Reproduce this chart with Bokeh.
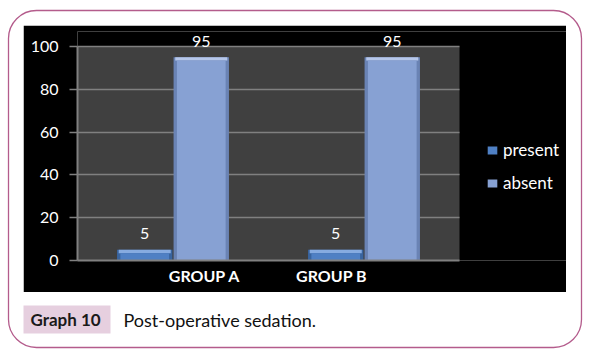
from bokeh.plotting import figure
from bokeh.models import (Range1d, FixedTicker, BoxAnnotation, Legend,
                          LegendItem, ColumnDataSource)
from bokeh.transform import dodge
from bokeh.core.properties import value
from bokeh.embed import file_html
from bokeh.resources import INLINE

# ---- data ----
groups = ["GROUP A", "GROUP B"]
series = ["present", "absent"]
present = [5, 5]
absent = [95, 95]
y_ticks = [0, 20, 40, 60, 80, 100]
caption_tag = "Graph 10"
caption_text = "Post-operative sedation."

FONT = "Lato"
# (edge, body, top bevel) colours per series
STYLE = {
    "present": ("#39649f", "#4f80c4", "#86abe0"),
    "absent": ("#6a83b4", "#87a1d3", "#b6c7ea"),
}

W, H = 596, 354

# ---- background page: rounded frame + caption ----
bg = figure(width=W, height=H, x_range=Range1d(0, W), y_range=Range1d(H, 0),
            x_axis_type=None, y_axis_type=None, output_backend="svg",
            toolbar_location=None, min_border=0, outline_line_color=None,
            background_fill_color="white", border_fill_color="white")
bg.grid.visible = False
bg.add_layout(BoxAnnotation(left=8, right=581, top=10, bottom=347,
                            fill_alpha=0, line_color="#b45c8c", line_alpha=1,
                            line_width=1.3, border_radius=28, level="image"))
bg.add_layout(BoxAnnotation(left=23, right=110, top=305, bottom=333,
                            fill_color="#e6cfdf", fill_alpha=1, line_alpha=0,
                            level="image"))
bg.text(x=[30], y=[319], text=[caption_tag], text_font=value(FONT),
        text_font_style="bold", text_font_size="17px",
        text_color="#1a1a1a", text_baseline="middle")
bg.text(x=[123], y=[319], text=[caption_text], text_font=value(FONT),
        text_font_size="18px", text_color="#111111",
        text_baseline="middle")

# ---- chart (black area) ----
BEV = 1.6   # top bevel thickness in data units
xc = [i + 0.5 for i in range(len(groups))]
src = ColumnDataSource(dict(
    x=xc, present=present, absent=absent,
    present_body=[v - BEV for v in present],
    absent_body=[v - BEV for v in absent],
    present_txt=[str(v) for v in present],
    absent_txt=[str(v) for v in absent],
))

CW, CH = 543, 267
BL, BT, BB = 54, 6, 32
x_end = len(groups) * (CW - BL) / 382.0     # gray plot area is 382px wide
p = figure(width=CW, height=CH,
           x_range=Range1d(0, x_end), y_range=Range1d(0, 107),
           output_backend="svg", toolbar_location=None,
           min_border_left=BL, min_border_right=0,
           min_border_top=BT, min_border_bottom=BB,
           background_fill_color="black", border_fill_color="black",
           outline_line_color=None, margin=(-(H - 25), 0, 0, 23))

p.add_layout(BoxAnnotation(left=0, right=len(groups), bottom=0, top=100,
                           fill_color="#404040", fill_alpha=1, line_alpha=0,
                           level="image"))

bw = 0.29
inset = 0.035
offsets = {"present": -bw / 2 - 0.003, "absent": bw / 2 + 0.003}
legend_renderers = {}
for s in series:
    edge, body, top = STYLE[s]
    xx = dodge("x", offsets[s], range=p.x_range)
    p.vbar(x=xx, top=s, width=bw, source=src, fill_color=edge,
           line_color=None)
    p.vbar(x=xx, bottom=s + "_body", top=s, width=bw - inset / 2,
           source=src, fill_color=top, line_color=None)
    legend_renderers[s] = p.vbar(x=xx, top=s + "_body", width=bw - inset,
                                 source=src, fill_color=body, line_color=None)
    p.text(x=xx, y=s, text=s + "_txt", source=src, text_color="white",
           text_font=value(FONT), text_font_size="16px", text_align="center",
           text_baseline="alphabetic", y_offset=-16)

p.xgrid.visible = False
yg = p.ygrid[0]
yg.grid_line_color = "#808080"
yg.grid_line_width = 1.5
if "cross_bounds" in yg.properties():
    yg.cross_bounds = (0, len(groups))
else:
    yg.visible = False
    p.segment(x0=[0] * len(y_ticks), x1=[len(groups)] * len(y_ticks),
              y0=y_ticks, y1=y_ticks, line_color="#808080", line_width=1.5,
              level="underlay")

p.yaxis.ticker = FixedTicker(ticks=y_ticks)
p.yaxis.bounds = (0, 100)
p.yaxis.axis_line_color = "#808080"
p.yaxis.axis_line_width = 2
p.yaxis.major_tick_line_color = "#808080"
p.yaxis.major_tick_line_width = 1.5
p.yaxis.major_tick_out = 8
p.yaxis.major_tick_in = 0
p.yaxis.minor_tick_line_color = None
p.yaxis.major_label_text_color = "white"
p.yaxis.major_label_text_font = FONT
p.yaxis.major_label_text_font_size = "16px"
p.yaxis.major_label_standoff = 11

label_pos = [0.665, 1.33]
p.xaxis.ticker = FixedTicker(ticks=label_pos)
p.xaxis.major_label_overrides = {pos: g for pos, g in zip(label_pos, groups)}
p.xaxis.bounds = (0, len(groups))
p.xaxis.axis_line_color = "#808080"
p.xaxis.axis_line_width = 2
p.xaxis.major_tick_line_color = None
p.xaxis.major_tick_out = 0
p.xaxis.major_tick_in = 0
p.xaxis.minor_tick_line_color = None
p.xaxis.major_label_text_color = "white"
p.xaxis.major_label_text_font = FONT
p.xaxis.major_label_text_font_style = "bold"
p.xaxis.major_label_text_font_size = "16px"
p.xaxis.major_label_standoff = 5

legend = Legend(items=[LegendItem(label=s, renderers=[legend_renderers[s]])
                       for s in series],
                location=(409, 67), background_fill_alpha=0,
                border_line_color=None, label_text_color="white",
                label_text_font=FONT, label_text_font_size="17px",
                glyph_width=12, glyph_height=10, label_height=20,
                spacing=12, padding=0, margin=0, label_standoff=5)
p.add_layout(legend)

open("out.html", "w").write(file_html([bg, p], INLINE))
